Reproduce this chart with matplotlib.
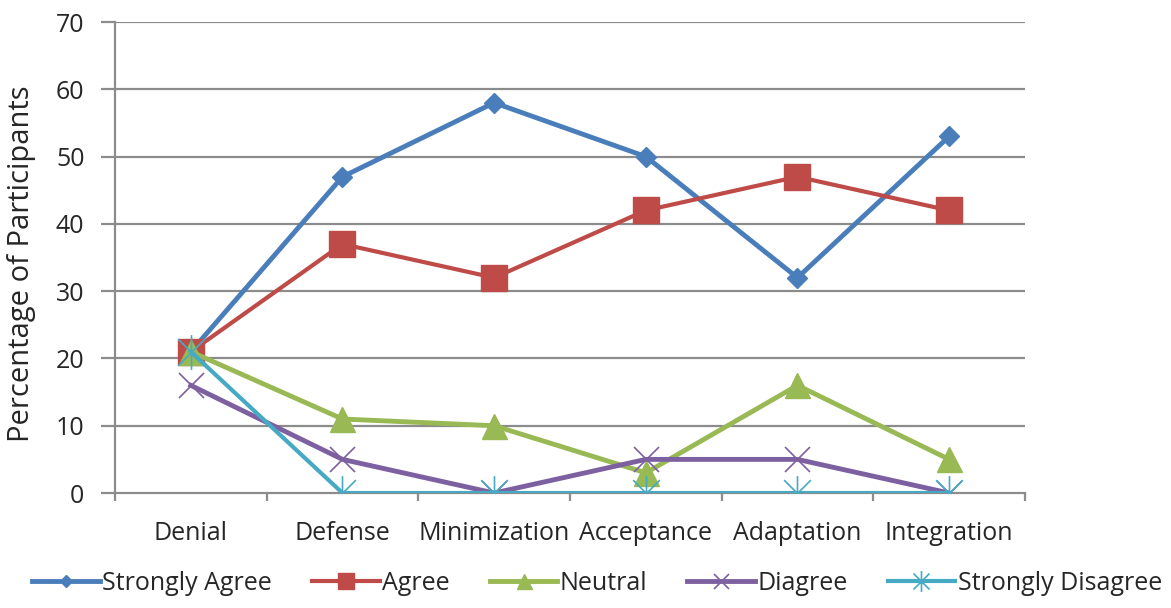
import matplotlib.pyplot as plt
import numpy as np
from matplotlib.path import Path

plt.rcParams['font.family'] = ['Open Sans', 'DejaVu Sans']

stages = ["Denial", "Defense", "Minimization", "Acceptance", "Adaptation", "Integration"]
strongly_agree = [21, 47, 58, 50, 32, 53]
agree = [21, 37, 32, 42, 47, 42]
neutral = [21, 11, 10, 3, 16, 5]
diagree = [16, 5, 0, 5, 5, 0]
strongly_disagree = [21, 0, 0, 0, 0, 0]
y_ticks = [0, 10, 20, 30, 40, 50, 60, 70]

# excel style asterisk: an x with a vertical bar through it
star = Path([(-1, -1), (1, 1), (-1, 1), (1, -1), (0, -1.3), (0, 1.3)],
            [Path.MOVETO, Path.LINETO, Path.MOVETO, Path.LINETO, Path.MOVETO, Path.LINETO])

grid_col = "#8c8c8c"
text_col = "#262626"

fig = plt.figure(figsize=(11.71, 6.08), dpi=100, facecolor="white")
ax = fig.add_axes([0.0982, 0.1891, 0.7771, 0.7747])

x = np.arange(len(stages))

ax.plot(x, strongly_agree, color="#4a7ebb", lw=3.5, marker="D", ms=10,
        label="Strongly Agree", zorder=3)
ax.plot(x, agree, color="#be4b48", lw=3, marker="s", ms=19,
        label="Agree", zorder=3)
ax.plot(x, neutral, color="#98b954", lw=3.5, marker="^", ms=18,
        label="Neutral", zorder=3)
ax.plot(x, diagree, color="#7d60a0", lw=3.5, marker="x", ms=18, mew=1.2,
        label="Diagree", zorder=3)
ax.plot(x, strongly_disagree, color="#46aac5", lw=3, marker=star, ms=25, mew=1.2,
        mfc="none", label="Strongly Disagree", zorder=3)

ax.set_xlim(-0.5, len(stages) - 0.5)
ax.set_ylim(0, 70)
ax.set_yticks(y_ticks)
ax.set_xticks(x)
ax.set_xticklabels(stages)
ax.set_xticks(np.arange(len(stages) + 1) - 0.5, minor=True)

for y in y_ticks[1:]:
    ax.axhline(y, color=grid_col, lw=1.6, zorder=1)

for side in ["top", "right"]:
    ax.spines[side].set_visible(False)
for side in ["left", "bottom"]:
    ax.spines[side].set_color(grid_col)
    ax.spines[side].set_linewidth(1.6)

ax.tick_params(axis="y", length=10, width=1.6, color=grid_col, pad=12,
               labelsize=18, labelcolor=text_col)
ax.tick_params(axis="x", which="major", length=0, pad=20,
               labelsize=18, labelcolor=text_col)
ax.tick_params(axis="x", which="minor", length=6, width=1.6, color=grid_col)

fig.text(22 / 1171, 0.567, "Percentage of Participants", rotation=90,
         ha="center", va="center", fontsize=21, color=text_col)

fig.legend(loc="center", bbox_to_anchor=(0.51, 0.041), ncol=5, frameon=False,
           fontsize=18, handlelength=2.7, handletextpad=0.1, columnspacing=1.6,
           markerscale=0.6, labelcolor=text_col)

fig.savefig("out.png", dpi=100, facecolor="white")
